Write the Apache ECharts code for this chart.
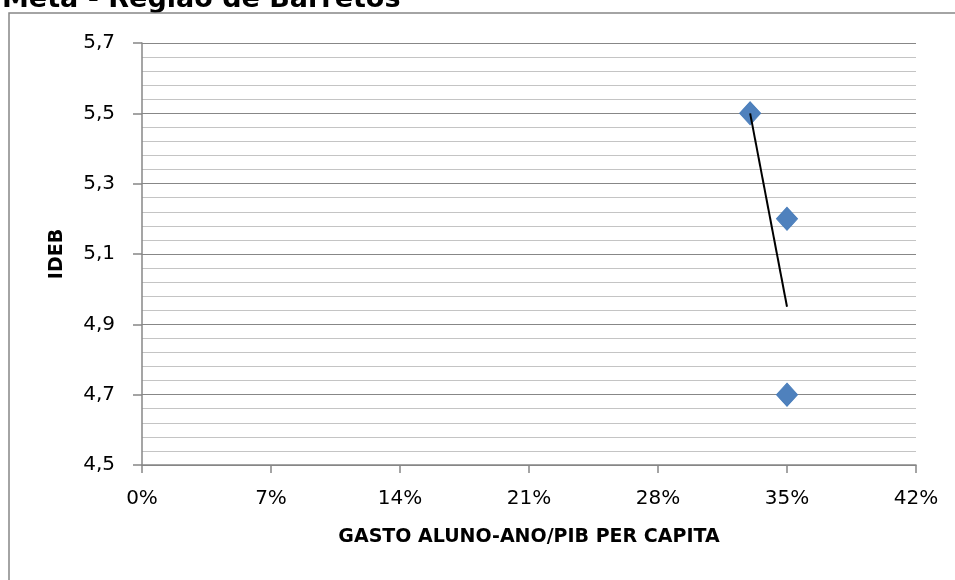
<!DOCTYPE html>
<html>
<head>
<meta charset="utf-8">
<style>
  html, body { margin: 0; padding: 0; background: #ffffff; }
  #chart { width: 955px; height: 580px; }
</style>
<script src="https://cdn.jsdelivr.net/npm/echarts@6/dist/echarts.min.js"></script>
</head>
<body>
<div id="chart"></div>
<script>
// Gasto aluno-ano / PIB per capita (fraction) and IDEB target per municipality
var gasto = [0.33, 0.35, 0.35];
var ideb = [5.5, 5.2, 4.7];
// Linear trend line endpoints (x, y)
var trendX = [0.33, 0.35];
var trendY = [5.5, 4.95];

var xTicks = { min: 0, max: 0.42, interval: 0.07 };
var yTicks = { min: 4.5, max: 5.7, interval: 0.2 };

var chartTitle = 'Meta - Região de Barretos';
var xName = 'GASTO ALUNO-ANO/PIB PER CAPITA';
var yName = 'IDEB';

var points = gasto.map(function (g, i) { return [g, ideb[i]]; });
var trend = trendX.map(function (x, i) { return [x, trendY[i]]; });

var labelFont = 'DejaVu Sans';
var axisGray = '#878787';

var chart = echarts.init(document.getElementById('chart'), null, { renderer: 'canvas' });
chart.setOption({
  animation: false,
  backgroundColor: '#ffffff',
  graphic: [
    {
      type: 'polyline',
      shape: { points: [[9, 580], [9, 13], [955, 13]] },
      style: { stroke: axisGray, lineWidth: 1.5, fill: null },
      z: 10
    },
    {
      type: 'text',
      left: 2,
      top: -14,
      style: {
        text: chartTitle,
        fontFamily: labelFont,
        fontWeight: 'bold',
        fontSize: 27,
        fill: '#000000'
      }
    }
  ],
  grid: { left: 142, right: 39, top: 43, bottom: 115, containLabel: false },
  xAxis: {
    type: 'value',
    min: xTicks.min,
    max: xTicks.max,
    interval: xTicks.interval,
    name: xName,
    nameLocation: 'middle',
    nameGap: 63,
    nameTextStyle: { fontFamily: labelFont, fontWeight: 'bold', fontSize: 19, color: '#000000' },
    axisLine: { show: true, lineStyle: { color: axisGray, width: 1.5 } },
    axisTick: { show: true, length: 8, lineStyle: { color: axisGray, width: 1.5 } },
    axisLabel: {
      margin: 24,
      fontFamily: labelFont,
      fontSize: 20,
      color: '#000000',
      formatter: function (v) { return Math.round(v * 100) + '%'; }
    },
    splitLine: { show: false }
  },
  yAxis: {
    type: 'value',
    min: yTicks.min,
    max: yTicks.max,
    interval: yTicks.interval,
    name: yName,
    nameLocation: 'middle',
    nameGap: 75,
    nameRotate: 90,
    nameTextStyle: { fontFamily: labelFont, fontWeight: 'bold', fontSize: 19, color: '#000000' },
    axisLine: { show: true, lineStyle: { color: axisGray, width: 1.5 } },
    axisTick: { show: true, length: 9, lineStyle: { color: axisGray, width: 1.5 } },
    axisLabel: {
      margin: 27,
      fontFamily: labelFont,
      fontSize: 20,
      color: '#000000',
      formatter: function (v) { return v.toFixed(1).replace('.', ','); }
    },
    splitLine: { show: true, lineStyle: { color: axisGray, width: 1 } },
    minorTick: { show: false, splitNumber: 5 },
    minorSplitLine: { show: true, lineStyle: { color: '#c4c4c4', width: 1 } }
  },
  series: [
    {
      type: 'scatter',
      data: points,
      symbol: 'diamond',
      symbolSize: [21, 23],
      itemStyle: { color: '#4f81bd', borderColor: '#4a7ebb', borderWidth: 1, opacity: 1 },
      z: 2
    },
    {
      type: 'line',
      data: trend,
      symbol: 'none',
      lineStyle: { color: '#000000', width: 2 },
      z: 3
    }
  ]
});
</script>
</body>
</html>
